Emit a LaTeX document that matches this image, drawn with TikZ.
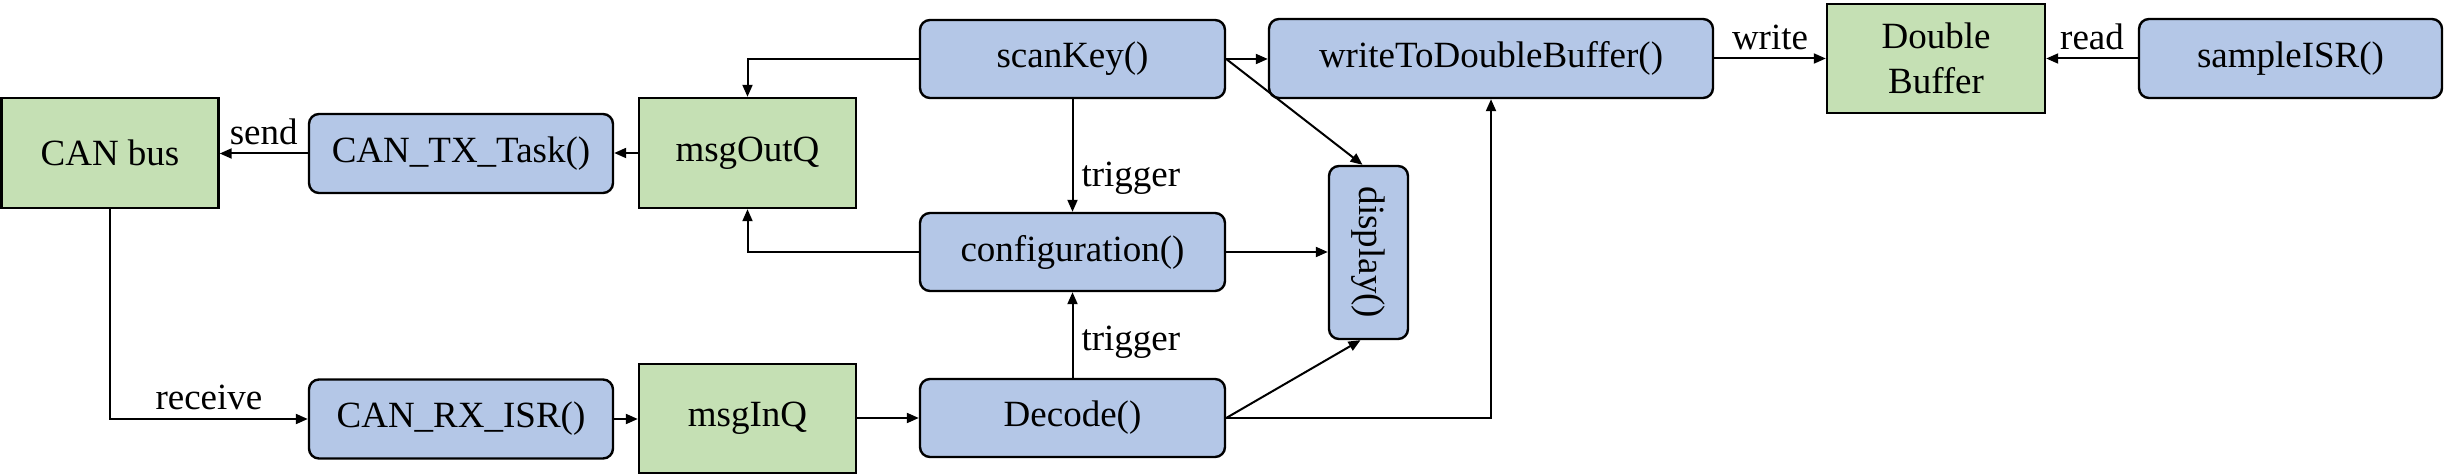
\documentclass[tikz,border=0pt]{standalone}
\usepackage{fontspec}
\setmainfont{Liberation Serif}
\usetikzlibrary{arrows.meta}
\definecolor{boxblue}{HTML}{B4C7E7}
\definecolor{boxgreen}{HTML}{C5E0B4}
\begin{document}
\begin{tikzpicture}[x=0.5pt,y=-0.5pt,
  every node/.style={font=\fontsize{18.5}{22.5}\selectfont},
  func/.style={draw, line width=1.2pt, fill=boxblue, rounded corners=5pt, inner sep=0pt},
  store/.style={draw, line width=1.2pt, fill=boxgreen, inner sep=0pt, align=center},
  conn/.style={line width=1pt, -{Triangle[length=6pt,width=5pt]}},
  lbl/.style={inner sep=4pt}]
\useasboundingbox (0,0) rectangle (2445,475);
\node[store, minimum width=108.5pt, minimum height=55pt] (can) at (110,153) {CAN bus};
\node[func, minimum width=152pt, minimum height=39.5pt] (tx) at (461,153.5) {CAN\_TX\_Task()};
\node[store, minimum width=108.5pt, minimum height=55pt] (out) at (747.5,153) {msgOutQ};
\node[func, minimum width=152pt, minimum height=39.5pt] (rx) at (461,419) {CAN\_RX\_ISR()};
\node[store, minimum width=108.5pt, minimum height=54.5pt] (in) at (747.5,418.5) {msgInQ};
\node[func, minimum width=152.5pt, minimum height=39pt] (scan) at (1072.5,59) {scanKey()};
\node[func, minimum width=152.5pt, minimum height=39pt] (conf) at (1072.5,252) {configuration()};
\node[func, minimum width=152.5pt, minimum height=39pt] (dec) at (1072.5,418) {Decode()};
\node[func, minimum width=39.5pt, minimum height=86.5pt] (disp) at (1368.5,252.5) {\rotatebox[origin=c]{-90}{display()}};
\node[func, minimum width=222pt, minimum height=39.5pt] (wtdb) at (1491,58.5) {writeToDoubleBuffer()};
\node[store, minimum width=109pt, minimum height=54.5pt] (db) at (1936,58.5) {Double\\Buffer};
\node[func, minimum width=151.5pt, minimum height=39.5pt] (samp) at (2290.5,58.5) {sampleISR()};

\draw[conn] (out.west) -- (out.west -| tx.east);
\draw[conn] (tx.west) -- node[lbl,above]{send} (tx.west -| can.east);
\draw[conn] (can.south) |- node[lbl,above,pos=0.75]{receive} (rx.west);
\draw[conn] (rx.east) -- (rx.east -| in.west);
\draw[conn] (in.east |- dec.west) -- (dec.west);
\draw[conn] (scan.south) -- node[lbl,right,pos=0.7]{trigger} (conf.north);
\draw[conn] (dec.north) -- node[lbl,right,pos=0.41]{trigger} (conf.south);
\draw[conn] (scan.west) -| (out.north);
\draw[conn] (conf.west) -| (out.south);
\draw[conn] (scan.east) -- (scan.east -| wtdb.west);
\draw[conn] (scan.east) -- ([xshift=-3pt]disp.north);
\draw[conn] (conf.east) -- (conf.east -| disp.west);
\draw[conn] (dec.east) -- ([xshift=-4pt]disp.south);
\draw[conn] (dec.east) -| (wtdb.south);
\draw[conn] (wtdb.east) -- node[lbl,above]{write} (wtdb.east -| db.west);
\draw[conn] (samp.west) -- node[lbl,above]{read} (samp.west -| db.east);
\end{tikzpicture}
\end{document}
